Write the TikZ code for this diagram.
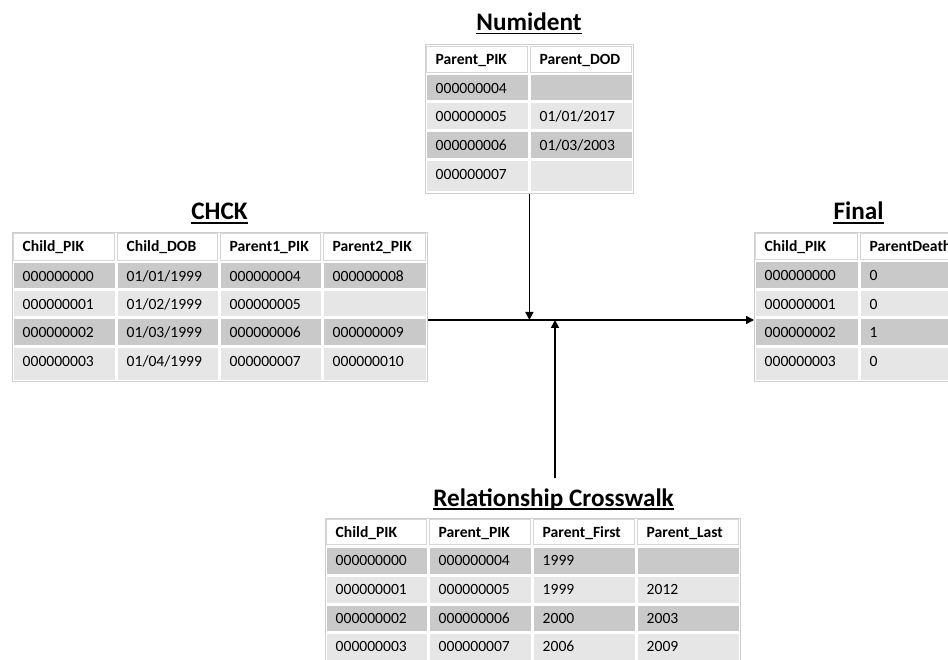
\documentclass[tikz,border=0pt]{standalone}
\usepackage{fontspec}
\setmainfont{Carlito}
\usetikzlibrary{arrows.meta}
\definecolor{darkrow}{HTML}{C9C9C9}
\definecolor{lightrow}{HTML}{E6E6E6}
\definecolor{cellline}{HTML}{D6D6D6}
\definecolor{outerline}{HTML}{CFCFCF}
\tikzset{
  hdrcell/.style={fill=white, draw=cellline, line width=0.8pt},
  darkcell/.style={fill=darkrow},
  lightcell/.style={fill=lightrow},
  celltext/.style={inner sep=0pt, font=\fontsize{15.6}{18}\selectfont},
  hdrtext/.style={inner sep=0pt, font=\fontsize{15.6}{18}\selectfont\bfseries},
  titletext/.style={inner sep=0pt, font=\fontsize{25.2}{29}\selectfont\bfseries},
  tablebox/.style={draw=outerline, line width=0.8pt, inner sep=0pt, anchor=north west},
  flow/.style={line width=1.6pt, -{Triangle[length=8pt,width=8pt]}},
}
\newcommand{\tblrow}[7]{%
  \foreach \xa/\xb/\txt [count=\c] in {#7} {
    \path[#5] (\xa+1.5,#3+1.5) rectangle (\xb-1.5,#4-1.5);
    \node[#6, anchor=base west] (#1-#2-\c) at (\xa+10.5,{#3+19.8}) {\txt};
  }}
\begin{document}
\begin{tikzpicture}[x=1pt,y=-1pt]
\useasboundingbox (0,0) rectangle (948,660);
\begin{scope}
\clip (0,0) rectangle (948,660);
% ---------- Numident
\node[tablebox, minimum width=208pt, minimum height=148.5pt] (numident) at (425,44.5) {};
\tblrow{num}{0}{44.5}{73.5}{hdrcell}{hdrtext}{425/529/Parent\_PIK, 529/633/Parent\_DOD}
\tblrow{num}{1}{73.5}{102}{darkcell}{celltext}{425/529/000000004, 529/633/{}}
\tblrow{num}{2}{102}{131}{lightcell}{celltext}{425/529/000000005, 529/633/{01/01/2017}}
\tblrow{num}{3}{131}{159.5}{darkcell}{celltext}{425/529/000000006, 529/633/{01/03/2003}}
\tblrow{num}{4}{159.5}{193}{lightcell}{celltext}{425/529/000000007, 529/633/{}}
\node[titletext, anchor=base] (numtitle) at (529,30.5) {Numident};
% ---------- CHCK
\node[tablebox, minimum width=415pt, minimum height=149pt] (chck) at (12,232) {};
\tblrow{chck}{0}{232}{262}{hdrcell}{hdrtext}{12/116/Child\_PIK, 116/219/Child\_DOB, 219/322/Parent1\_PIK, 322/427/Parent2\_PIK}
\tblrow{chck}{1}{262}{290}{darkcell}{celltext}{12/116/000000000, 116/219/{01/01/1999}, 219/322/000000004, 322/427/000000008}
\tblrow{chck}{2}{290}{318}{lightcell}{celltext}{12/116/000000001, 116/219/{01/02/1999}, 219/322/000000005, 322/427/{}}
\tblrow{chck}{3}{318}{347}{darkcell}{celltext}{12/116/000000002, 116/219/{01/03/1999}, 219/322/000000006, 322/427/000000009}
\tblrow{chck}{4}{347}{381}{lightcell}{celltext}{12/116/000000003, 116/219/{01/04/1999}, 219/322/000000007, 322/427/000000010}
\node[titletext, anchor=base] (chcktitle) at (219.5,220) {CHCK};
% ---------- Final
\node[tablebox, minimum width=209pt, minimum height=149pt] (final) at (754,232) {};
\tblrow{fin}{0}{232}{261}{hdrcell}{hdrtext}{754/859/Child\_PIK, 859/963/ParentDeath}
\tblrow{fin}{1}{261}{290}{darkcell}{celltext}{754/859/000000000, 859/963/0}
\tblrow{fin}{2}{290}{318}{lightcell}{celltext}{754/859/000000001, 859/963/0}
\tblrow{fin}{3}{318}{347}{darkcell}{celltext}{754/859/000000002, 859/963/1}
\tblrow{fin}{4}{347}{381}{lightcell}{celltext}{754/859/000000003, 859/963/0}
\node[titletext, anchor=base] (fintitle) at (858.5,220) {Final};
% ---------- Relationship Crosswalk
\node[tablebox, minimum width=415pt, minimum height=147pt] (cross) at (325,518) {};
\tblrow{rc}{0}{518}{546}{hdrcell}{hdrtext}{325/428/Child\_PIK, 428/532/Parent\_PIK, 532/636/Parent\_First, 636/740/Parent\_Last}
\tblrow{rc}{1}{546}{575}{darkcell}{celltext}{325/428/000000000, 428/532/000000004, 532/636/1999, 636/740/{}}
\tblrow{rc}{2}{575}{604}{lightcell}{celltext}{325/428/000000001, 428/532/000000005, 532/636/1999, 636/740/2012}
\tblrow{rc}{3}{604}{632}{darkcell}{celltext}{325/428/000000002, 428/532/000000006, 532/636/2000, 636/740/2003}
\tblrow{rc}{4}{632}{665}{lightcell}{celltext}{325/428/000000003, 428/532/000000007, 532/636/2006, 636/740/2009}
\node[titletext, anchor=base] (rctitle) at (553.5,506) {Relationship Crosswalk};
\end{scope}
% ---------- underlines
\foreach \t in {numtitle, chcktitle, fintitle, rctitle}
  \draw[line width=1.9pt] ([yshift=-3pt]\t.base west) -- ([yshift=-3pt]\t.base east);
% ---------- connectors
\coordinate (jy) at (0,320);
\coordinate (upstart) at (555,478);
\draw[flow] (chck.east |- jy) -- (final.west |- jy);
\draw[flow] (numident.south) -- (numident.south |- jy);
\draw[flow] (upstart) -- (upstart |- jy);
\end{tikzpicture}
\end{document}
